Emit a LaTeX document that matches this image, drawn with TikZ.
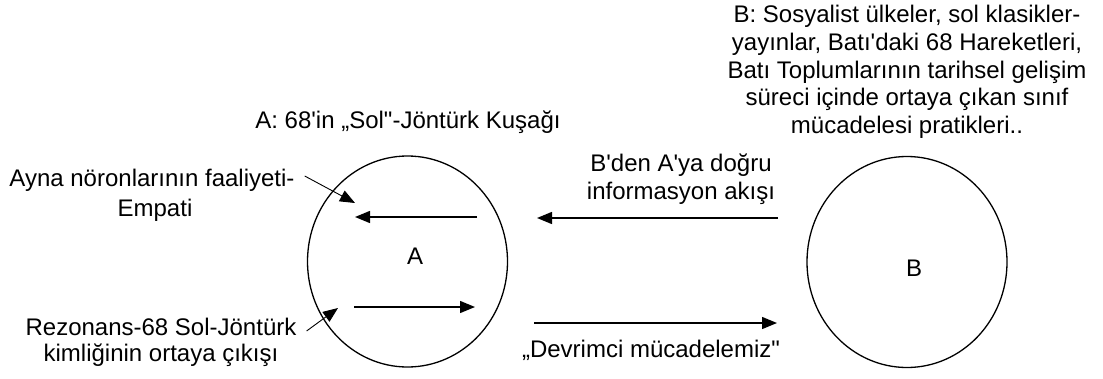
\documentclass[tikz,border=0pt]{standalone}
\usepackage{fontspec}
\setmainfont{Liberation Sans}[Ligatures=TeXOff]
\usetikzlibrary{arrows.meta,shapes.geometric}
\begin{document}
\begin{tikzpicture}[x=1pt,y=1pt,
  txt/.style={inner sep=0pt,font=\fontsize{24}{28}\selectfont,align=center},
  circ/.style={ellipse,draw,line width=1.3pt,minimum width=200pt,minimum height=211pt,inner sep=0pt},
  flow/.style={line width=1.4pt,-{Triangle[length=15pt,width=12pt]}},
  pointer/.style={line width=0.9pt,-{Triangle[length=15pt,width=12pt]}}]
\useasboundingbox (0,0) rectangle (1103,-378);
% circles
\node[circ] (A) at (407.5,-261.5) {};
\node[circ] (B) at (907,-262) {};
\node[txt] (Alab) at (415,-256) {A};
\node[txt] (Blab) at (914,-268) {B};
% titles
\node[txt] (Atitle) at (408,-122) {A: 68'in „Sol"-Jöntürk Kuşağı};
\node[txt,anchor=north,font=\fontsize{24}{27.8}\selectfont] (Btitle) at (907,-5) {B: Sosyalist ülkeler, sol klasikler-\\yayınlar, Batı'daki 68 Hareketleri,\\Batı Toplumlarının tarihsel gelişim\\süreci içinde ortaya çıkan sınıf\\mücadelesi pratikleri..};
% left labels
\node[txt] (ayna1) at (152,-180) {Ayna nöronlarının faaliyeti-};
\node[txt] (ayna2) at (155,-210) {Empati};
\node[txt] (rez1) at (161,-327) {Rezonans-68 Sol-Jöntürk};
\node[txt] (rez2) at (161,-355) {kimliğinin ortaya çıkışı};
% middle labels
\node[txt] (info) at (681,-179) {B'den A'ya doğru\\informasyon akışı};
\node[txt] (dev) at (651,-350) {„Devrimci mücadelemiz"};
% arrow coordinates
\coordinate (a1s) at (477,-217);
\coordinate (a1e) at (355,-217);
\coordinate (a2s) at (354,-307);
\coordinate (a2e) at (475,-307);
\coordinate (m1s) at (778,-218);
\coordinate (m1e) at (537,-218);
\coordinate (m2s) at (534,-323);
\coordinate (m2e) at (777,-323);
\coordinate (p1e) at (355,-203);
\coordinate (p2e) at (338,-308);
% arrows
\draw[flow] (a1s) -- (a1e);
\draw[flow] (a2s) -- (a2e);
\draw[flow] (m1s) -- (m1e);
\draw[flow] (m2s) -- (m2e);
\draw[pointer] ([xshift=10pt,yshift=4pt]ayna1.east) -- (p1e);
\draw[pointer] ([xshift=10pt,yshift=-4pt]rez1.east) -- (p2e);
\end{tikzpicture}
\end{document}
